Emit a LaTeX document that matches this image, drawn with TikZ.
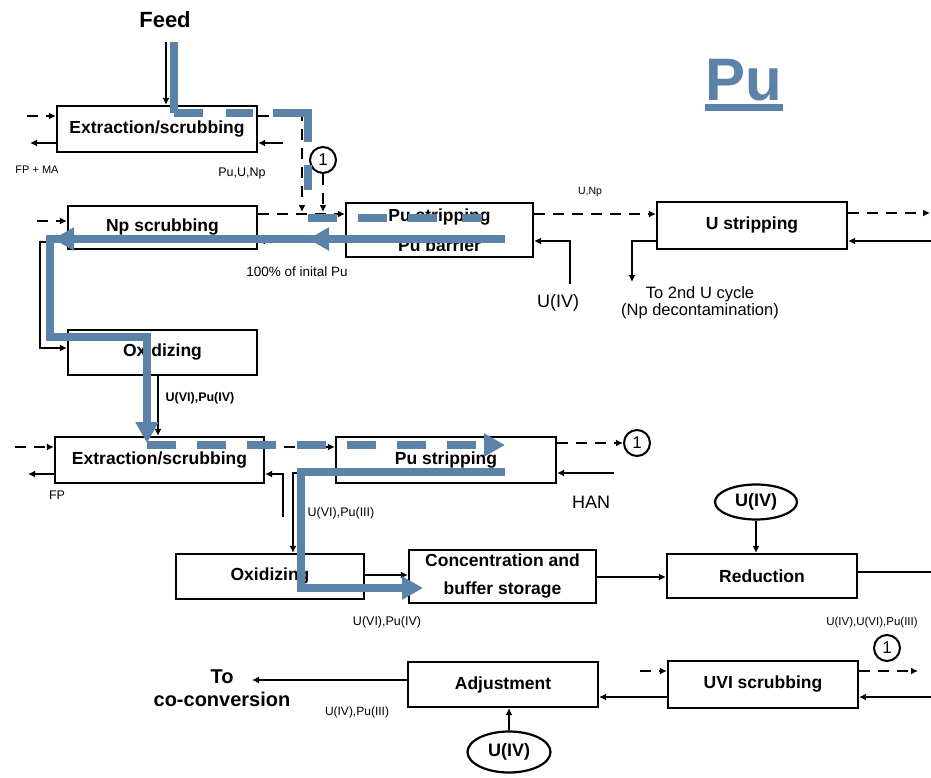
\documentclass[tikz,border=0pt]{standalone}
\usepackage{fontspec}
\setmainfont{Liberation Sans}
\usetikzlibrary{arrows.meta,decorations.markings,shapes.geometric}
\definecolor{puflow}{RGB}{91,130,168}
\begin{document}
\begin{tikzpicture}[x=1pt,y=-1pt,
  box/.style={draw,line width=2.2pt,inner sep=0pt,align=center,
    font=\fontsize{17.5}{28}\selectfont\bfseries},
  conn/.style={line width=2pt,-{Latex[length=7pt,width=7pt]}},
  dconn/.style={conn,dash pattern=on 11pt off 8pt},
  plain/.style={line width=1.4pt},
  circ/.style={draw,circle,line width=2pt,minimum size=26pt,inner sep=0pt,
    font=\fontsize{17}{17}\selectfont},
  reag/.style={draw,ellipse,line width=2.2pt,inner sep=0pt,
    font=\fontsize{18}{18}\selectfont\bfseries},
  lbl/.style={inner sep=0pt,font=\fontsize{12.5}{14}\selectfont},
  biglbl/.style={inner sep=0pt,font=\fontsize{18}{16}\selectfont},
  flow/.style={draw=puflow,line width=7.5pt,line cap=butt,line join=miter},
  flowtip/.style={-{Triangle[length=21pt,width=22pt]}},
  twotips/.style 2 args={postaction={decorate},
    decoration={markings,
      mark=at position #1 with {\arrow{Triangle[length=21pt,width=22pt]}},
      mark=at position #2 with {\arrow{Triangle[length=21pt,width=22pt]}}}}
]
\useasboundingbox (0,0) rectangle (931,778);

% ---------- process units ----------
\node[box,minimum width=200pt,minimum height=46pt] (ex1) at (157,129) {Extraction/scrubbing};
\node[box,minimum width=189pt,minimum height=43pt] (np)  at (162.5,227.5) {Np scrubbing};
\node[box,minimum width=187pt,minimum height=54pt,font=\fontsize{17.5}{30}\selectfont\bfseries]
  (pus1) at (439.5,230) {Pu stripping\\Pu barrier};
\node[box,minimum width=190pt,minimum height=47pt] (us)  at (752,225.5) {U stripping};
\node[box,minimum width=189pt,minimum height=45pt] (ox1) at (162.5,352.5) {Oxidizing};
\node[box,minimum width=209pt,minimum height=46pt] (ex2) at (159.5,460) {Extraction/scrubbing};
\node[box,minimum width=220pt,minimum height=46pt] (pus2) at (446,460) {Pu stripping};
\node[box,minimum width=188pt,minimum height=45pt] (ox2) at (270,576.5) {Oxidizing};
\node[box,minimum width=187pt,minimum height=53pt] (conc) at (502.5,576.5) {Concentration and\\buffer storage};
\node[box,minimum width=190pt,minimum height=44pt] (red) at (762,576) {Reduction};
\node[box,minimum width=190pt,minimum height=45pt] (adj) at (503,684.5) {Adjustment};
\node[box,minimum width=190pt,minimum height=47pt] (uvi) at (763,684.5) {UVI scrubbing};

% reagents and recycle markers
\node[reag,minimum width=82pt,minimum height=35pt] (e1) at (756,502) {U(IV)};
\node[reag,minimum width=83pt,minimum height=41pt] (e2) at (509,752) {U(IV)};
\node[circ] (c1) at (323,160) {1};
\node[circ] (c2) at (637,443) {1};
\node[circ] (c3) at (887,648) {1};

% ---------- titles and labels ----------
\node[inner sep=0pt,font=\fontsize{22}{24}\selectfont\bfseries] (feed) at (165,20) {Feed};
\node[inner sep=0pt,text=puflow,font=\fontsize{60}{60}\selectfont\bfseries] (title) at (744,80) {Pu};
\draw[puflow,line width=7pt] (title.south west |- 0,108) -- (title.south east |- 0,108);
\node[lbl,font=\fontsize{11}{12}\selectfont] (fpma) at (37,170) {FP + MA};
\node[lbl] (puunp) at (242,173) {Pu,U,Np};
\node[lbl,font=\fontsize{10.5}{12}\selectfont] (unp) at (590,192) {U,Np};
\node[lbl,font=\fontsize{13.5}{15}\selectfont] (cent) at (297,272) {100\% of inital Pu};
\node[biglbl] (uivl) at (558,303) {U(IV)};
\node[biglbl,align=center,font=\fontsize{16.5}{17}\selectfont] (cycle2) at (700,303) {To 2nd U cycle\\(Np decontamination)};
\node[lbl,font=\fontsize{12.5}{14}\selectfont\bfseries] (l1) at (200,398) {U(VI),Pu(IV)};
\node[lbl] (fp) at (57,495) {FP};
\node[lbl] (l2) at (341,513) {U(VI),Pu(III)};
\node[biglbl] (han) at (591,502) {HAN};
\node[lbl] (l3) at (387,622) {U(VI),Pu(IV)};
\node[lbl,font=\fontsize{11.5}{13}\selectfont] (l4) at (872,623) {U(IV),U(VI),Pu(III)};
\node[lbl,font=\fontsize{12}{13}\selectfont] (l5) at (357,712) {U(IV),Pu(III)};
\node[inner sep=0pt,align=center,font=\fontsize{20}{23}\selectfont\bfseries] (toco) at (222,688) {To\\co-conversion};

% ---------- stream levels and free ends ----------
\coordinate (feedin) at (166,42);
\coordinate (ex1inL) at (27,116);
\coordinate (ex1outL) at (30,143);
\coordinate (ex1inR) at (283,143);
\coordinate (ex1turn) at (302,116);
\coordinate (jn) at (302,212);
\coordinate (r2d) at (0,214);
\coordinate (r2s) at (0,241);
\coordinate (npinL) at (37,221);
\coordinate (npL) at (40,242);
\coordinate (oxin) at (40,348);
\coordinate (uivin) at (570,284);
\coordinate (usoutR) at (930,213);
\coordinate (usinR) at (931,241);
\coordinate (usdown) at (632,282);
\coordinate (oxd) at (158,0);
\coordinate (r3d) at (0,447);
\coordinate (r3s) at (0,474);
\coordinate (ex2inL) at (15,447);
\coordinate (ex2outL) at (28,474);
\coordinate (ex2inR) at (283,517);
\coordinate (pdown) at (293,473);
\coordinate (hanin) at (614,473);
\coordinate (r4a) at (0,575);
\coordinate (r4b) at (0,577);
\coordinate (redout) at (931,572);
\coordinate (r5d) at (0,671);
\coordinate (r5s) at (0,697);
\coordinate (uviinL) at (640,671);
\coordinate (uvioutR) at (918,671);
\coordinate (uviinR) at (931,697);
\coordinate (toconv) at (252,680);

% ---------- first cycle ----------
\draw[conn] (feedin) -- (feedin |- ex1.north);
\draw[dconn] (ex1inL) -- (ex1inL -| ex1.west);
\draw[conn] (ex1outL -| ex1.west) -- (ex1outL);
\draw[conn] (ex1inR) -- (ex1inR -| ex1.east);
\draw[dconn] (ex1turn -| ex1.east) -- (ex1turn) -- (jn);
\draw[dconn] (c1.south) -- (c1.south |- jn);
\draw[dconn] (npinL) -- (npinL -| np.west);
\draw[dconn] (r2d -| np.east) -- (r2d -| pus1.west);
\draw[conn] (r2s -| pus1.west) -- (r2s -| np.east);
\draw[conn] (npL -| np.west) -- (npL) -- (oxin) -- (oxin -| ox1.west);
\draw[dconn] (r2d -| pus1.east) -- (r2d -| us.west);
\draw[conn] (uivin) -- (uivin |- r2s) -- (r2s -| pus1.east);
\draw[dconn] (usoutR -| us.east) -- (usoutR);
\draw[conn] (usinR) -- (usinR -| us.east);
\draw[conn] (r2s -| us.west) -- (usdown |- r2s) -- (usdown);

% ---------- second cycle ----------
\draw[conn] (oxd |- ox1.south) -- (oxd |- ex2.north);
\draw[dconn] (ex2inL) -- (ex2inL -| ex2.west);
\draw[conn] (ex2outL -| ex2.west) -- (ex2outL);
\draw[dconn] (r3d -| ex2.east) -- (r3d -| pus2.west);
\draw[conn] (ex2inR) -- (ex2inR |- r3s) -- (r3s -| ex2.east);
\draw[conn] (pdown -| pus2.west) -- (pdown) -- (pdown |- ox2.north);
\draw[dconn] (c2.west -| pus2.east) -- (c2.west);
\draw[conn] (hanin) -- (hanin -| pus2.east);
\draw[conn] (r4a -| ox2.east) -- (r4a -| conc.west);
\draw[conn] (r4b -| conc.east) -- (r4b -| red.west);
\draw[conn] (e1.south) -- (e1.south |- red.north);
\draw[plain] (redout -| red.east) -- (redout);
\draw[dconn] (uviinL) -- (uviinL -| uvi.west);
\draw[conn] (r5s -| uvi.west) -- (r5s -| adj.east);
\draw[dconn] (r5d -| uvi.east) -- (uvioutR);
\draw[conn] (uviinR) -- (uviinR -| uvi.east);
\draw[conn,line width=1.5pt] (toconv -| adj.west) -- (toconv);
\draw[conn] (e2.north) -- (e2.north |- adj.south);

% ---------- plutonium route ----------
\draw[flow] (174,42) -- (174,113);
\draw[flow,dash pattern=on 29pt off 23pt on 27pt off 20pt on 64pt off 23pt on 25pt off 28pt on 29pt off 21pt on 29pt off 21pt on 29pt off 25pt on 20pt off 60pt]
  (174,113) -- (308,113) -- (308,218) -- (482,218);
\draw[flow,flowtip,twotips={197pt}{452pt}]
  (505,239) -- (50,239) -- (50,337) -- (147,337) -- (147,443);
\draw[flow,flowtip,dash pattern=on 29pt off 21pt] (147,445) -- (505,445);
\draw[flow,flowtip] (505,472) -- (301,472) -- (301,588) -- (423,588);
\end{tikzpicture}
\end{document}
